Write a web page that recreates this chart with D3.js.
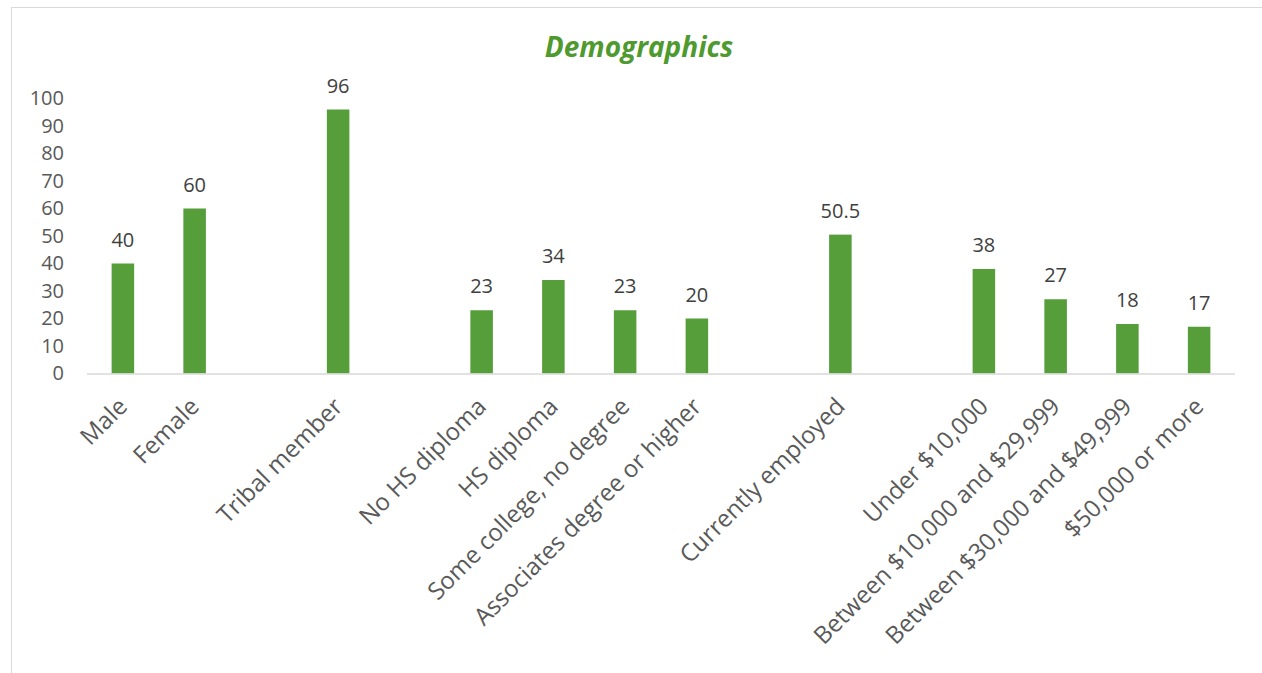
<!DOCTYPE html>
<html>
<head>
<meta charset="utf-8">
<script src="https://cdn.jsdelivr.net/npm/d3@7"></script>
<style>
  html, body { margin: 0; padding: 0; background: #fff; }
  svg { display: block; font-family: "Open Sans", "Noto Sans", sans-serif; }
</style>
</head>
<body>
<svg id="chart" width="1262" height="673"></svg>
<script>
// Category slots; null entries are empty spacer slots between groups
const categories = [
  "Male", "Female", null, "Tribal member", null,
  "No HS diploma", "HS diploma", "Some college, no degree", "Associates degree or higher", null,
  "Currently employed", null,
  "Under $10,000", "Between $10,000 and $29,999", "Between $30,000 and $49,999", "$50,000 or more"
];
const values = [
  40, 60, null, 96, null,
  23, 34, 23, 20, null,
  50.5, null,
  38, 27, 18, 17
];
const yTicks = [0, 10, 20, 30, 40, 50, 60, 70, 80, 90, 100];
const title = "Demographics";

const green = "#559e3a";
const textGray = "#595959";
const labelDark = "#404040";

const svg = d3.select("#chart");

// chart frame
svg.append("rect")
  .attr("x", 11.5).attr("y", 7.5)
  .attr("width", 1300).attr("height", 700)
  .attr("fill", "none").attr("stroke", "#d9d9d9").attr("stroke-width", 1);

const slots = d3.range(categories.length);
const x = d3.scaleBand().domain(slots).range([87, 1235]).padding(0);
const y = d3.scaleLinear().domain([0, 100]).range([373.5, 98.5]);
const barW = x.bandwidth() * 0.314;

// title
svg.append("text")
  .attr("x", 639).attr("y", 57)
  .attr("text-anchor", "middle")
  .attr("font-size", 28).attr("font-weight", "bold").attr("font-style", "italic")
  .attr("fill", "#4e9a2f")
  .text(title);

// y axis (labels only)
const yAxis = d3.axisLeft(y).tickValues(yTicks).tickSize(0).tickPadding(0);
const gy = svg.append("g").attr("transform", "translate(64,0)").call(yAxis);
gy.select(".domain").remove();
gy.selectAll("text")
  .attr("font-size", 20).attr("fill", textGray)
  .attr("font-family", "'Open Sans', sans-serif");

// bars
const data = slots.filter(i => values[i] != null).map(i => ({ i, name: categories[i], v: values[i] }));

svg.append("g").selectAll("rect")
  .data(data).join("rect")
  .attr("x", d => x(d.i) + x.bandwidth() / 2 - barW / 2)
  .attr("y", d => y(d.v))
  .attr("width", barW)
  .attr("height", d => y(0) - y(d.v))
  .attr("fill", green);

// value labels
svg.append("g").selectAll("text")
  .data(data).join("text")
  .attr("x", d => x(d.i) + x.bandwidth() / 2)
  .attr("y", d => y(d.v) - 17)
  .attr("text-anchor", "middle")
  .attr("font-size", 20).attr("fill", labelDark)
  .text(d => d.v);

// x axis line
svg.append("line")
  .attr("x1", 87).attr("x2", 1235)
  .attr("y1", y(0) + 0.5).attr("y2", y(0) + 0.5)
  .attr("stroke", "#d9d9d9").attr("stroke-width", 1.5);

// rotated category labels
svg.append("g").selectAll("text")
  .data(data).join("text")
  .attr("transform", d => `translate(${x(d.i) + x.bandwidth() / 2},${402}) rotate(-45)`)
  .attr("text-anchor", "end")
  .attr("dy", "0.35em")
  .attr("font-size", 24).attr("fill", textGray)
  .text(d => d.name);
</script>
</body>
</html>
